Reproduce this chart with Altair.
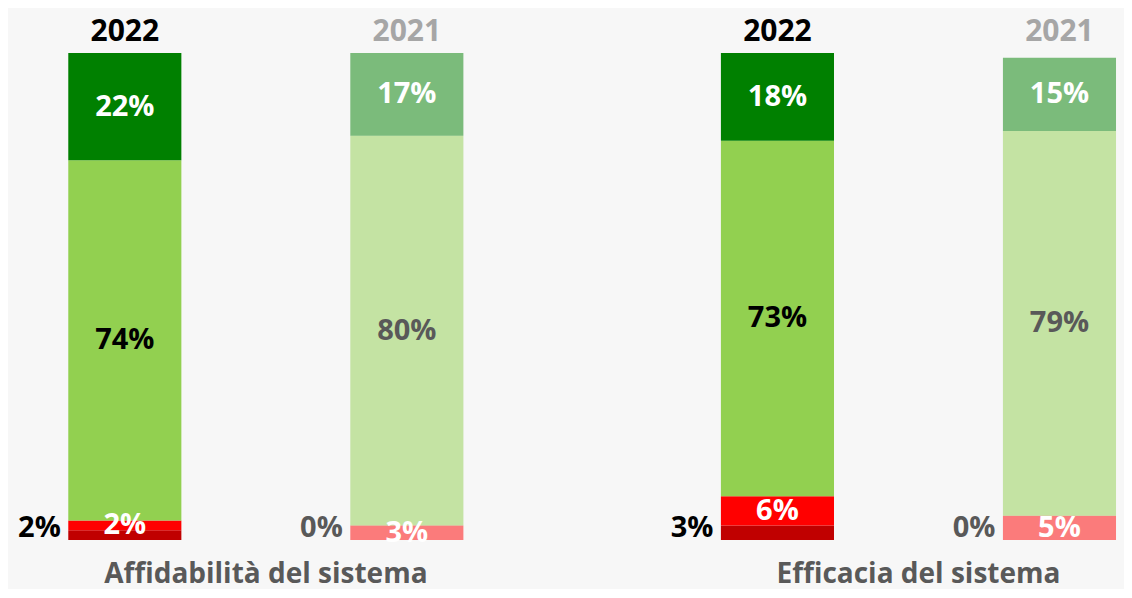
import altair as alt
import pandas as pd

groups = ["Affidabilità del sistema", "Efficacia del sistema"]
years = ["2022", "2021"]
bar_group = [groups[0], groups[0], groups[1], groups[1]]
bar_year = ["2022", "2021", "2022", "2021"]
levels = ["Per niente", "Poco", "Abbastanza", "Molto"]
per_niente = [2, 0, 3, 0]
poco = [2, 3, 6, 5]
abbastanza = [74, 80, 73, 79]
molto = [22, 17, 18, 15]
level_colors = ["#C00000", "#FF0000", "#92D050", "#008000"]

rows = []
for i in range(4):
    for k, arr in enumerate([per_niente, poco, abbastanza, molto]):
        rows.append({"group": bar_group[i], "year": bar_year[i], "level": levels[k],
                     "order": k, "value": arr[i]})
df = pd.DataFrame(rows)

FONT = "Open Sans"

x_enc = alt.X("group:N", sort=groups, title=None,
              scale=alt.Scale(paddingInner=0.3946, paddingOuter=0.0523, align=0.883),
              axis=alt.Axis(domain=False, ticks=False, labelFontSize=28, labelFont=FONT,
                            labelFontWeight="bold", labelColor="#595959", labelPadding=42,
                            labelBaseline="alphabetic", labelAngle=0, labelLimit=600))
xo_enc = alt.XOffset("year:N", sort=years,
                     scale=alt.Scale(paddingInner=0.599, paddingOuter=0))

base = alt.Chart(df).transform_stack(
    stack="value", groupby=["group", "year"], as_=["y0", "y1"],
    sort=[alt.SortField("order", "ascending")]
).transform_calculate(
    mid="(datum.y0 + datum.y1) / 2",
    label="datum.value + '%'"
)

y_scale = alt.Scale(domain=[0, 100], nice=False)

bars = base.mark_bar().encode(
    x=x_enc, xOffset=xo_enc,
    y=alt.Y("y0:Q", scale=y_scale, axis=None),
    y2="y1:Q",
    color=alt.Color("level:N", scale=alt.Scale(domain=levels, range=level_colors), legend=None),
    opacity=alt.Opacity("year:N", scale=alt.Scale(domain=years, range=[1, 0.5]), legend=None),
)

inner = base.transform_filter(alt.datum.level != levels[0]).transform_calculate(
    tcolor="datum.level == 'Abbastanza' ? (datum.year == '2022' ? '#000000' : '#595959') : '#ffffff'"
).mark_text(font=FONT, fontSize=29, fontWeight="bold", baseline="middle").encode(
    x=x_enc, xOffset=xo_enc,
    y=alt.Y("mid:Q", scale=y_scale, axis=None),
    text="label:N",
    color=alt.Color("tcolor:N", scale=None),
)

outer = base.transform_filter(alt.datum.level == levels[0]).mark_text(
    font=FONT, fontSize=29, fontWeight="bold", align="right", baseline="alphabetic",
    dx=-64, dy=-3
).encode(
    x=x_enc, xOffset=xo_enc,
    y=alt.datum(0),
    text="label:N",
    color=alt.condition(alt.datum.year == "2022", alt.value("#000000"), alt.value("#595959")),
)

year_lbl = base.transform_filter(alt.datum.level == levels[-1]).mark_text(
    font=FONT, fontSize=30, fontWeight="bold", baseline="alphabetic", dy=-12
).encode(
    x=x_enc, xOffset=xo_enc,
    y=alt.datum(100),
    text="year:N",
    color=alt.condition(alt.datum.year == "2022", alt.value("#000000"), alt.value("#A6A6A6")),
)

chart = alt.layer(bars, inner, outer, year_lbl).properties(
    width=1116, height=487,
    autosize=alt.AutoSizeParams(type="none"),
    padding={"left": 0, "top": 45, "right": 0, "bottom": 49},
    background="#F7F7F7",
).configure_view(strokeWidth=0)

chart.save("out.html", embed_options={"renderer": "svg", "actions": False})
